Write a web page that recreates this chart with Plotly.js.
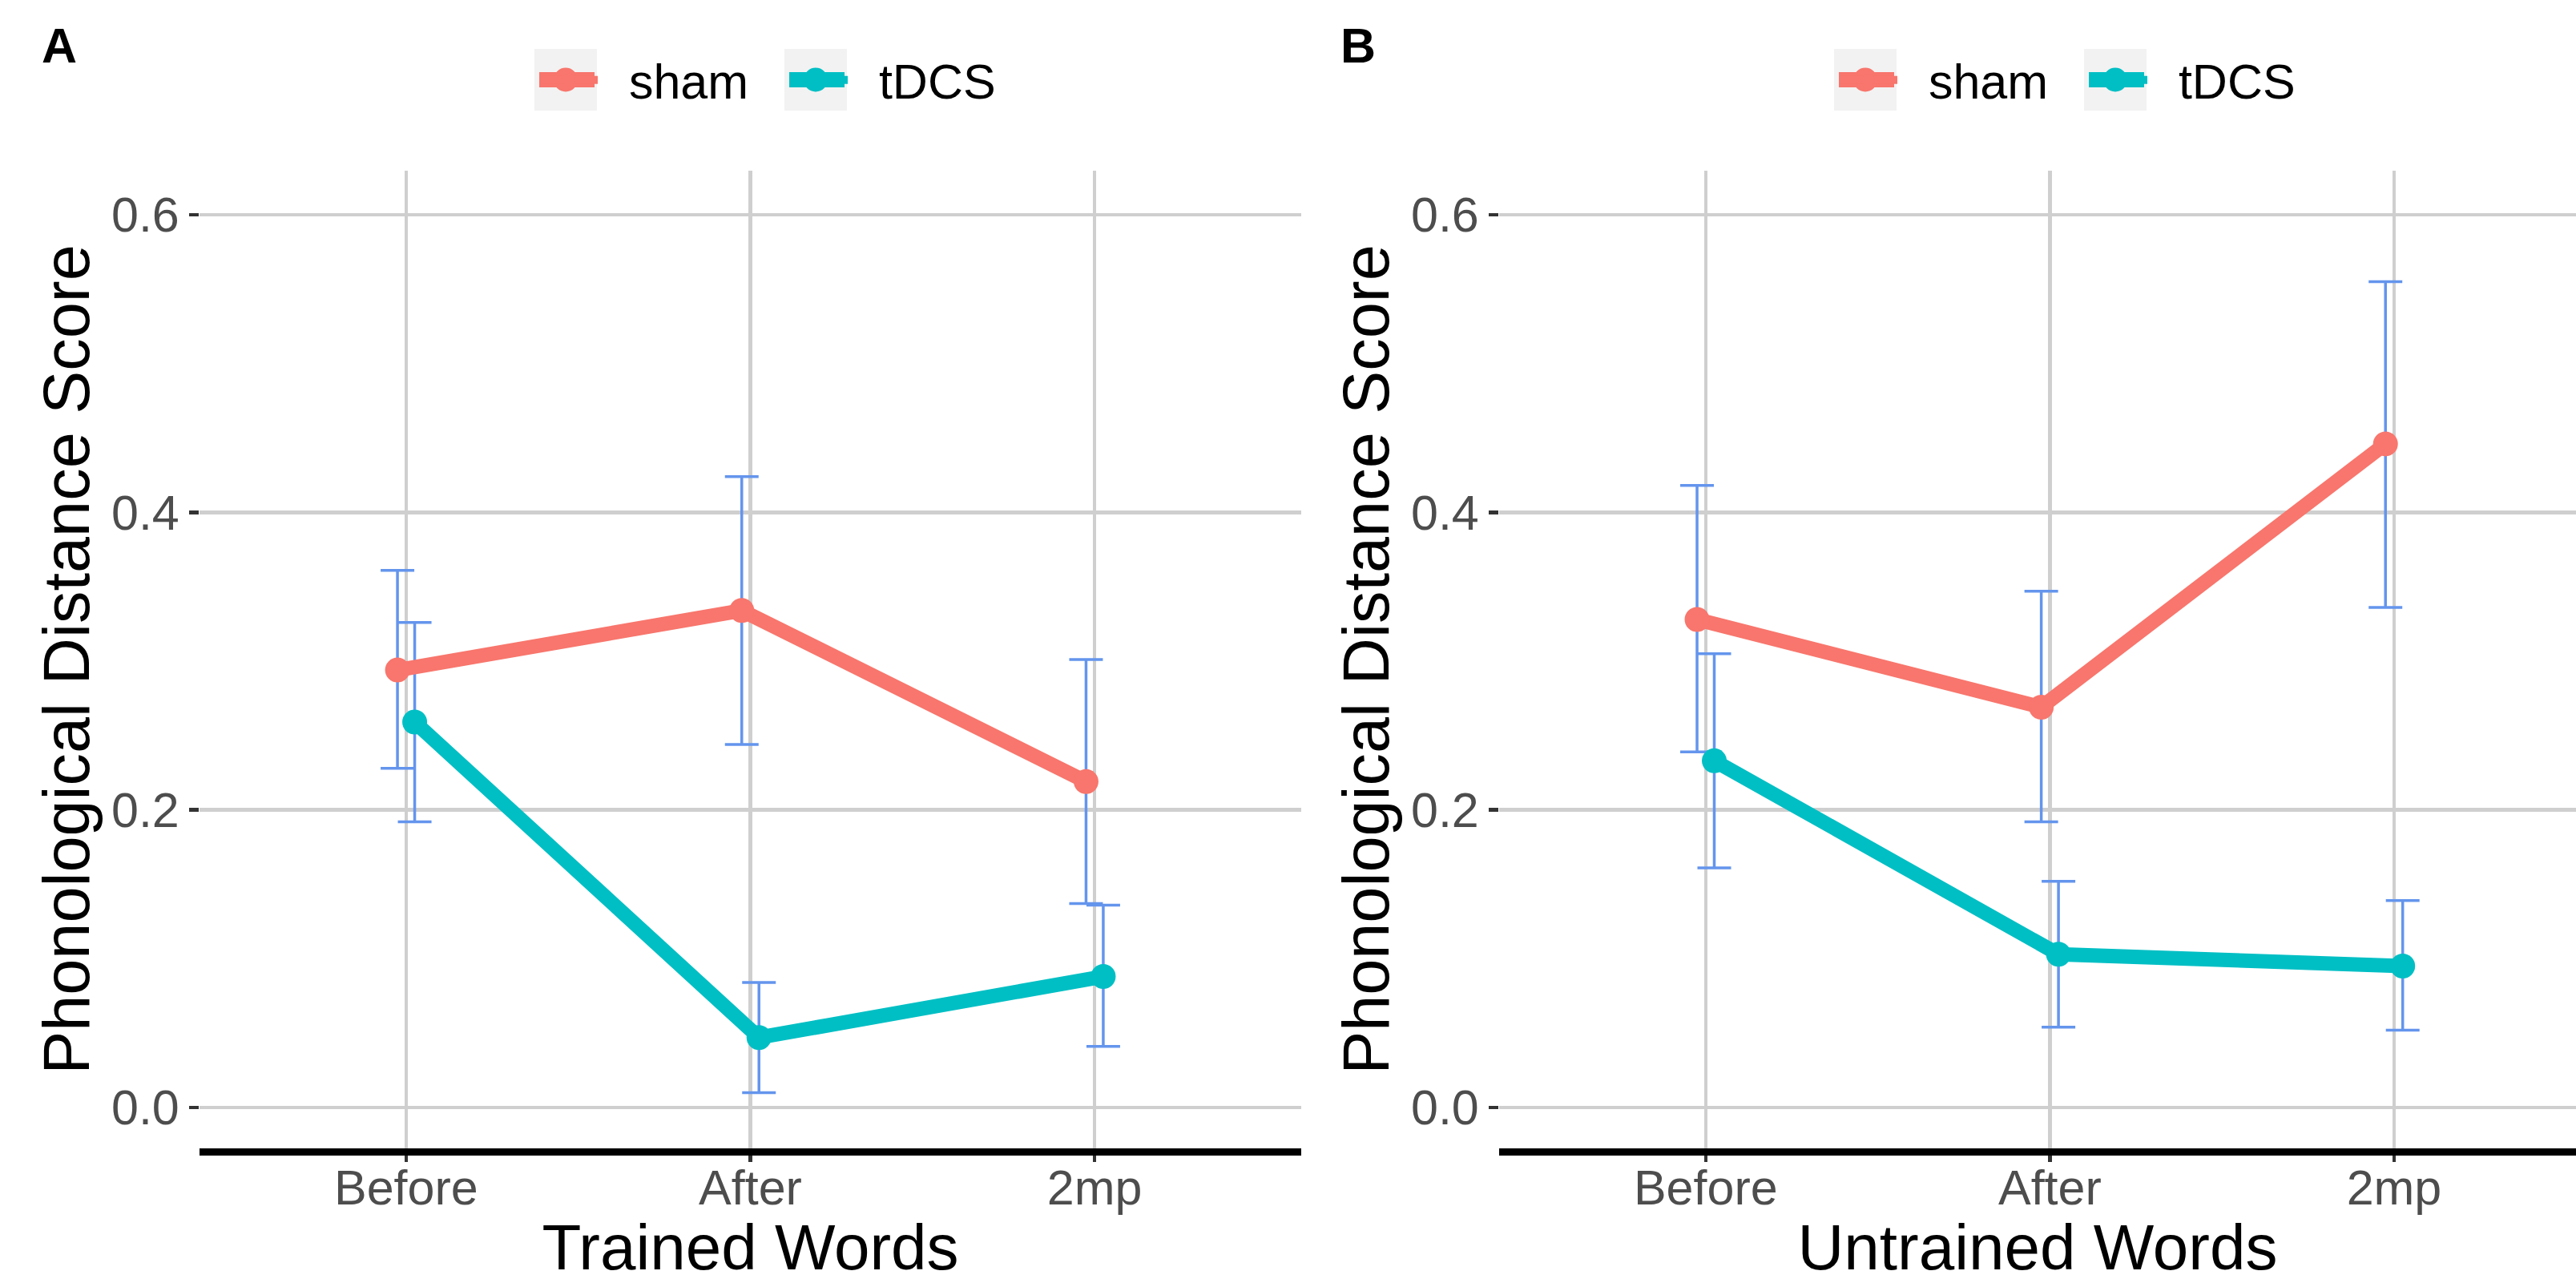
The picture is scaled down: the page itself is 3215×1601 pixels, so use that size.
<!DOCTYPE html>
<html>
<head>
<meta charset="utf-8">
<script src="https://cdn.plot.ly/plotly-3.0.1.min.js"></script>
<style>html,body{margin:0;padding:0;background:#fff}#chart{width:3215px;height:1601px}</style>
</head>
<body>
<div id="chart"></div>
<script>
// ---------- data ----------
var categories = ['Before', 'After', '2mp'];
var groups = ['sham', 'tDCS'];

// Panel A: Trained Words
var trainedShamMean  = [0.294, 0.334, 0.219];
var trainedShamUpper = [0.361, 0.424, 0.301];
var trainedShamLower = [0.228, 0.244, 0.137];
var trainedTdcsMean  = [0.259, 0.047, 0.088];
var trainedTdcsUpper = [0.326, 0.084, 0.136];
var trainedTdcsLower = [0.192, 0.010, 0.041];

// Panel B: Untrained Words
var untrainedShamMean  = [0.328, 0.269, 0.446];
var untrainedShamUpper = [0.418, 0.347, 0.555];
var untrainedShamLower = [0.239, 0.192, 0.336];
var untrainedTdcsMean  = [0.233, 0.103, 0.095];
var untrainedTdcsUpper = [0.305, 0.152, 0.139];
var untrainedTdcsLower = [0.161, 0.054, 0.052];

var yTickVals = [0.0, 0.2, 0.4, 0.6];
var yTickText = ['0.0', '0.2', '0.4', '0.6'];
var xTitles = ['Trained Words', 'Untrained Words'];
var yTitle = 'Phonological Distance Score';
var panelLabels = ['A', 'B'];

// ---------- style ----------
var W = 3215, H = 1601;
var colors = {sham: '#F8766D', tDCS: '#00BFC4'};
var errColor = '#6495ED';
var dodge = {sham: -0.025, tDCS: 0.025};
var FONT = 'Liberation Sans, Arial, Helvetica, sans-serif';
var NB = '\u00A0\u00A0';
function px(x) { return x / W; }
function py(y) { return 1 - y / H; }

var catIdx = categories.map(function (c, i) { return i + 1; });
function xs(g) { return catIdx.map(function (v) { return v + dodge[g]; }); }
function diff(a, b) { return a.map(function (v, i) { return +(v - b[i]).toFixed(4); }); }

var panels = [
  {xa: 'x', ya: 'y', legend: 'legend', data: {
    sham: [trainedShamMean, trainedShamUpper, trainedShamLower],
    tDCS: [trainedTdcsMean, trainedTdcsUpper, trainedTdcsLower]}},
  {xa: 'x2', ya: 'y2', legend: 'legend2', data: {
    sham: [untrainedShamMean, untrainedShamUpper, untrainedShamLower],
    tDCS: [untrainedTdcsMean, untrainedTdcsUpper, untrainedTdcsLower]}}
];

var traces = [];
panels.forEach(function (p) {
  // error bars first (below lines)
  groups.forEach(function (g) {
    var d = p.data[g];
    traces.push({
      type: 'scatter', mode: 'markers', x: xs(g), y: d[0],
      xaxis: p.xa, yaxis: p.ya, showlegend: false, hoverinfo: 'skip',
      marker: {size: 1, opacity: 0},
      error_y: {type: 'data', symmetric: false, array: diff(d[1], d[0]), arrayminus: diff(d[0], d[2]),
        color: errColor, thickness: 3.5, width: 21}
    });
  });
  groups.forEach(function (g) {
    var d = p.data[g];
    traces.push({
      type: 'scatter', mode: 'lines+markers', name: NB + g, x: xs(g), y: d[0],
      xaxis: p.xa, yaxis: p.ya, legend: p.legend,
      line: {color: colors[g], width: 18},
      marker: {color: colors[g], size: 31}
    });
  });
});

var yRange = [-0.0275, 0.6296];
var yDomain = [py(1433), py(213)];
function xAxis(domain, range, title) {
  return {
    domain: domain, range: range, tickvals: catIdx, ticktext: categories,
    showgrid: true, gridcolor: '#CFCFCF', gridwidth: 4.5, zeroline: false,
    showline: true, linecolor: '#000000', linewidth: 9,
    ticks: 'outside', ticklen: 8, tickwidth: 4.5, tickcolor: '#333333',
    ticklabelstandoff: -20,
    tickfont: {family: FONT, size: 61, color: '#4D4D4D'},
    title: {text: title, font: {family: FONT, size: 80, color: '#000000'}, standoff: 10},
    fixedrange: true
  };
}
function yAxis(anchor) {
  return {
    domain: yDomain, range: yRange, anchor: anchor, tickvals: yTickVals, ticktext: yTickText,
    showgrid: true, gridcolor: '#CFCFCF', gridwidth: 4.5, zeroline: false, showline: false,
    ticks: 'outside', ticklen: 12, tickwidth: 4.5, tickcolor: '#333333',
    tickfont: {family: FONT, size: 61, color: '#4D4D4D'},
    title: {text: yTitle, font: {family: FONT, size: 81, color: '#000000'}, standoff: 0},
    fixedrange: true
  };
}

function legendObj(x) {
  return {orientation: 'h', x: x, xanchor: 'left', y: py(100), yanchor: 'middle',
    font: {family: FONT, size: 61, color: '#000000'}, bgcolor: 'rgba(0,0,0,0)',
    itemwidth: 72, entrywidth: 225, entrywidthmode: 'pixels', tracegroupgap: 0,
    itemclick: false, itemdoubleclick: false};
}

// legend key decorations (grey key background, enlarged key symbols)
var keyBoxes = [667, 979, 2289, 2601];
var keyGroups = ['sham', 'tDCS', 'sham', 'tDCS'];
var shapes = [];
keyBoxes.forEach(function (x0, i) {
  shapes.push({type: 'rect', xref: 'paper', yref: 'paper', layer: 'below',
    x0: px(x0), x1: px(x0 + 78), y0: py(138), y1: py(61),
    fillcolor: '#F2F2F2', line: {width: 0}});
  var c = colors[keyGroups[i]];
  shapes.push({type: 'line', xref: 'paper', yref: 'paper', layer: 'above',
    x0: px(x0 + 6), x1: px(x0 + 75), y0: py(99.5), y1: py(99.5),
    line: {color: c, width: 19}});
  shapes.push({type: 'circle', xref: 'paper', yref: 'paper', layer: 'above',
    x0: px(x0 + 39 - 15), x1: px(x0 + 39 + 15), y0: py(99.5 + 15), y1: py(99.5 - 15),
    fillcolor: c, line: {width: 0}});
});

var annotations = [
  {text: '<b>' + panelLabels[0] + '</b>', xref: 'paper', yref: 'paper', x: px(50), y: py(57), xanchor: 'left', yanchor: 'middle',
    showarrow: false, font: {family: FONT, size: 61, color: '#000000'}},
  {text: '<b>' + panelLabels[1] + '</b>', xref: 'paper', yref: 'paper', x: px(1671), y: py(57), xanchor: 'left', yanchor: 'middle',
    showarrow: false, font: {family: FONT, size: 61, color: '#000000'}}
];

var layout = {
  width: W, height: H, margin: {l: 0, r: 0, t: 0, b: 0},
  paper_bgcolor: '#FFFFFF', plot_bgcolor: '#FFFFFF',
  showlegend: true,
  xaxis: xAxis([px(249), px(1624)], [0.4, 3.6], xTitles[0]),
  yaxis: yAxis('x'),
  xaxis2: xAxis([px(1871), 1], [0.4, 3.5285], xTitles[1]),
  yaxis2: yAxis('x2'),
  legend: legendObj(px(669)),
  legend2: legendObj(px(2291)),
  shapes: shapes,
  annotations: annotations
};
layout.xaxis2.anchor = 'y2';
layout.xaxis.anchor = 'y';

Plotly.newPlot('chart', traces, layout, {staticPlot: true, displayModeBar: false});
</script>
</body>
</html>
